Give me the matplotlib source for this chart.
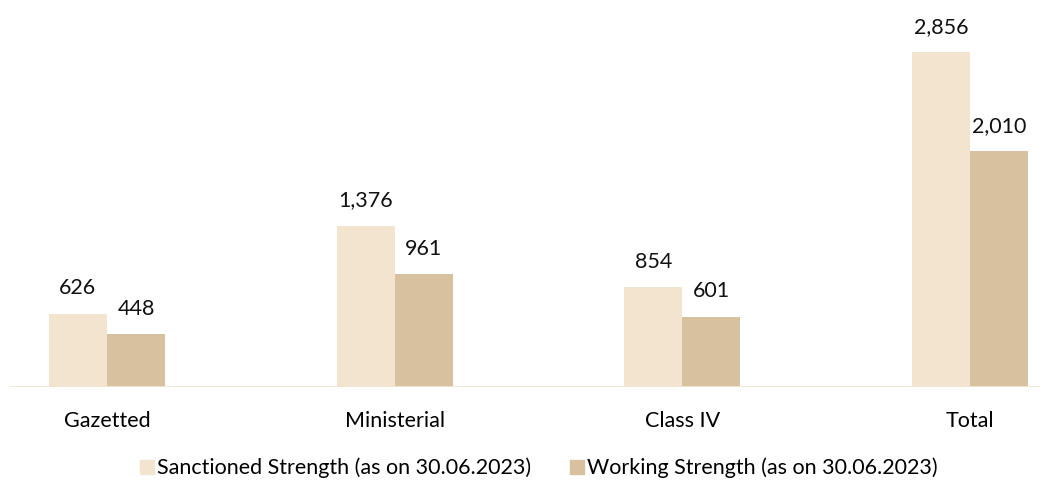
import numpy as np
import matplotlib.pyplot as plt
from matplotlib.patches import Patch

categories = ['Gazetted', 'Ministerial', 'Class IV', 'Total']
sanctioned = [626, 1376, 854, 2856]
working = [448, 961, 601, 2010]
series_names = ['Sanctioned Strength (as on 30.06.2023)',
                'Working Strength (as on 30.06.2023)']

c_sanc = '#F2E4CF'
c_work = '#D8C19F'

plt.rcParams['font.family'] = ['Lato', 'DejaVu Sans']

fig = plt.figure(figsize=(10.5, 4.8), dpi=100)
ax = fig.add_axes([10 / 1050, 93 / 480, 1030 / 1050, 387 / 480])

x = np.arange(len(categories))
w = 0.202
b1 = ax.bar(x - w / 2, sanctioned, w, color=c_sanc)
b2 = ax.bar(x + w / 2, working, w, color=c_work)

for bars, vals in ((b1, sanctioned), (b2, working)):
    for bar, v in zip(bars, vals):
        ax.annotate(f'{v:,}', (bar.get_x() + bar.get_width() / 2, v),
                    xytext=(0, 11), textcoords='offset points',
                    ha='center', va='bottom', fontsize=15.5, color='#111111')

ax.set_xlim(-0.337, 3.243)
ax.set_ylim(0, 3300)
ax.axhline(0, color=c_sanc, lw=2)
for s in ax.spines.values():
    s.set_visible(False)
ax.set_yticks([])
ax.set_xticks(x)
ax.set_xticklabels(categories, fontsize=15.5)
ax.tick_params(axis='x', length=0, pad=17)

handles = [Patch(color=c_sanc), Patch(color=c_work)]
fig.legend(handles, series_names, loc='center', bbox_to_anchor=(0.513, 0.025),
           ncol=2, frameon=False, fontsize=15.5, handlelength=0.65,
           handleheight=0.65, handletextpad=0.15, columnspacing=1.8)

fig.savefig('out.png', dpi=100)
